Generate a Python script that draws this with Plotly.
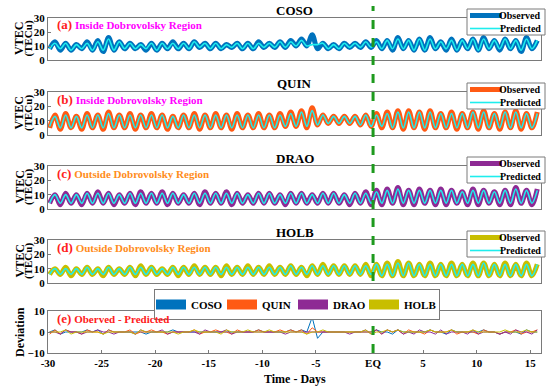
import numpy as np
import plotly.graph_objects as go

DAYS = list(range(-30, 16))
EQ_DAY = 0.33
X_TICKS = [-30, -25, -20, -15, -10, -5, EQ_DAY, 5, 10, 15]
X_TICK_TEXT = ["-30", "-25", "-20", "-15", "-10", "-5", "EQ", "5", "10", "15"]

STATIONS = ["COSO", "QUIN", "DRAO", "HOLB"]
SERIES_NAMES = ["Observed", "Predicted"]

COSO_OBS_MAX = [13,12,11,13,14,16,13,12,11,12, 12,13,12,13,12,12,11,12,12,13, 12,13,14,15,18,12,11,12,12,13, 14,14,16,14,15,16,13,15,14,15, 16,14,15,14,16,14]
COSO_OBS_MIN = [8,7,7,8,7,6,7,8,8,7, 7,8,8,8,9,8,8,9,8,8, 9,9,9,10,10,8,8,8,9,9, 9,8,7,8,7,7,8,7,7,8, 7,8,7,8,6,8]
COSO_PRED_MAX = [12,12,11,12,13,15,13,12,11,12, 12,12,12,13,12,12,11,12,12,12, 12,13,13,14,11,12,11,12,12,13, 13,14,15,14,15,15,13,14,14,15, 15,14,15,14,15,14]
COSO_PRED_MIN = [8,8,7,8,7,7,7,8,8,8, 7,8,8,8,9,8,8,9,8,8, 9,9,9,10,10,11,8,8,9,9, 9,8,8,8,7,7,8,8,7,8, 7,8,8,8,7,8]

QUIN_OBS_MAX = [14,15,13,15,14,16,14,15,14,15, 14,13,14,15,14,15,14,15,14,15, 14,15,16,17,19,14,13,13,13,14, 15,16,17,17,16,17,15,16,15,16, 17,15,16,17,15,16]
QUIN_OBS_MIN = [5,4,5,4,5,4,5,5,4,5, 5,4,5,5,4,5,5,4,5,5, 5,5,6,6,5,7,8,8,8,7, 6,5,5,4,5,4,5,5,4,5, 4,5,4,5,4,5]
QUIN_PRED_MAX = [13,14,13,14,14,15,14,14,14,14, 14,13,14,14,14,14,14,14,14,14, 14,14,15,16,17,14,13,13,13,14, 14,15,16,16,16,16,15,15,15,16, 16,15,16,16,15,15]
QUIN_PRED_MIN = [6,5,5,5,5,5,5,5,5,5, 5,5,5,5,5,5,5,5,5,5, 5,5,6,6,6,7,8,8,8,7, 6,6,5,5,5,5,5,5,5,5, 5,5,5,5,5,5]

DRAO_OBS_MAX = [10,11,10,11,12,11,10,11,12,11, 12,11,10,11,12,11,12,11,10,11, 11,10,11,11,10,11,11,10,11,12, 13,14,15,13,14,13,14,13,12,14, 13,12,13,15,13,14]
DRAO_OBS_MIN = [4,3,4,3,4,4,3,4,3,4, 4,3,4,4,3,4,4,3,4,4, 4,4,3,4,4,4,4,4,3,4, 3,3,4,3,3,4,3,3,4,3, 3,4,3,3,4,3]
DRAO_PRED_MAX = [10,10,10,11,11,11,10,11,11,11, 11,11,10,11,11,11,11,11,10,11, 11,10,11,11,10,11,11,10,11,11, 12,13,14,13,13,13,13,13,12,13, 13,12,13,14,13,13]
DRAO_PRED_MIN = [4,4,4,4,4,4,4,4,4,4, 4,4,4,4,4,4,4,4,4,4, 4,4,4,4,4,4,4,4,4,4, 4,4,4,4,4,4,4,4,4,4, 4,4,4,4,4,4]

HOLB_OBS_MAX = [10,11,10,11,10,11,10,11,12,11, 10,11,11,12,11,11,12,11,12,11, 12,11,12,11,12,13,12,12,12,13, 13,14,15,14,13,14,13,14,13,14, 14,13,14,13,14,13]
HOLB_OBS_MIN = [6,6,5,6,6,5,6,6,5,6, 6,6,5,6,6,6,5,6,6,6, 6,6,6,6,5,6,6,6,6,6, 5,5,5,5,5,5,5,5,5,5, 5,5,5,5,5,5]
HOLB_PRED_MAX = [10,10,10,11,10,11,10,11,11,11, 10,11,11,11,11,11,11,11,11,11, 11,11,12,11,12,12,12,12,12,12, 13,13,14,14,13,13,13,13,13,13, 14,13,13,13,13,13]
HOLB_PRED_MIN = [6,6,6,6,6,6,6,6,6,6, 6,6,6,6,6,6,6,6,6,6, 6,6,6,6,6,6,6,6,6,6, 6,5,5,5,5,5,5,5,5,5, 5,5,5,5,5,5]

OBS = {
    "COSO": (COSO_OBS_MIN, COSO_OBS_MAX),
    "QUIN": (QUIN_OBS_MIN, QUIN_OBS_MAX),
    "DRAO": (DRAO_OBS_MIN, DRAO_OBS_MAX),
    "HOLB": (HOLB_OBS_MIN, HOLB_OBS_MAX),
}
PRED = {
    "COSO": (COSO_PRED_MIN, COSO_PRED_MAX),
    "QUIN": (QUIN_PRED_MIN, QUIN_PRED_MAX),
    "DRAO": (DRAO_PRED_MIN, DRAO_PRED_MAX),
    "HOLB": (HOLB_PRED_MIN, HOLB_PRED_MAX),
}
PANEL_LABELS = ["(a)", "(b)", "(c)", "(d)"]
REGION_TEXT = ["Inside Dobrovolsky Region", "Inside Dobrovolsky Region",
               "Outside Dobrovolsky Region", "Outside Dobrovolsky Region"]
REGION_COLORS = ["#FF00FF", "#FF00FF", "#FF8C1A", "#FF8C1A"]
COLORS = {"COSO": "#0072BD", "QUIN": "#FF5A14", "DRAO": "#8E2A94", "HOLB": "#C8BE00"}
PRED_COLOR = "#1EEDED"

W, H = 550, 387
def py(top, bottom):
    return [1 - bottom / H, 1 - top / H]
def yp(pix):
    return 1 - pix / H

XDOM = [48 / W, 541 / W]
PANELS = [(18, 60), (92, 135), (166, 209), (240, 283), (311, 353)]

# two samples per day: daily minimum then daily maximum
t = np.array([[d + 0.15, d + 0.65] for d in DAYS]).ravel()
def interleave(lo, hi):
    return np.array(list(zip(lo, hi)), dtype=float).ravel()

FONT = "Liberation Serif"
fig = go.Figure()

for i, st in enumerate(STATIONS):
    ax = "" if i == 0 else str(i + 1)
    obs = interleave(*OBS[st])
    pred = interleave(*PRED[st])
    fig.add_trace(go.Scatter(x=t, y=obs, mode="lines", name=f"{st} Observed", showlegend=False,
                             line=dict(color=COLORS[st], width=5, shape="spline"),
                             xaxis="x" + ax, yaxis="y" + ax))
    fig.add_trace(go.Scatter(x=t, y=pred, mode="lines", name=f"{st} Predicted", showlegend=False,
                             line=dict(color=PRED_COLOR, width=1.6, shape="spline"),
                             xaxis="x" + ax, yaxis="y" + ax))

# deviation panel
for st in STATIONS:
    dev = interleave(*OBS[st]) - interleave(*PRED[st])
    fig.add_trace(go.Scatter(x=t, y=dev, mode="lines", name=st, showlegend=False,
                             line=dict(color=COLORS[st], width=1),
                             xaxis="x5", yaxis="y5"))
for st in STATIONS:
    fig.add_trace(go.Scatter(x=[None], y=[None], mode="lines", name=st,
                             line=dict(color=COLORS[st], width=14),
                             xaxis="x5", yaxis="y5", legend="legend"))

axis_common = dict(showline=True, mirror=True, linecolor="#7a7a7a", linewidth=1,
                   showgrid=False, zeroline=False, ticks="inside", ticklen=3,
                   tickcolor="#7a7a7a", automargin=False,
                   tickfont=dict(family=FONT, size=11, color="black", weight="bold"))
layout = dict(width=W, height=H, margin=dict(l=0, r=0, t=0, b=0, autoexpand=False),
              paper_bgcolor="white", plot_bgcolor="white", showlegend=True,
              font=dict(family=FONT, color="black"))

for i, (top, bot) in enumerate(PANELS):
    ax = "" if i == 0 else str(i + 1)
    xa = dict(axis_common, domain=XDOM, range=[-30, 16], anchor="y" + ax,
              tickvals=X_TICKS, ticktext=X_TICK_TEXT)
    if i < 4:
        xa.update(showticklabels=False, ticks="")
    ya = dict(axis_common, domain=py(top, bot), anchor="x" + ax)
    if i < 4:
        ya.update(range=[0, 30], tickvals=[0, 10, 20, 30])
    else:
        ya.update(range=[-10, 10], tickvals=[-10, 0, 10])
    layout["xaxis" + ax] = xa
    layout["yaxis" + ax] = ya

layout["legend"] = dict(x=297 / W, xanchor="center", y=yp(289), yanchor="top",
                        orientation="h", bgcolor="white", bordercolor="#7a7a7a",
                        borderwidth=1, font=dict(family=FONT, size=11, color="black", weight="bold"),
                        itemwidth=30, indentation=-4, entrywidth=30, entrywidthmode="pixels")
fig.update_layout(**layout)

ann = []
shapes = []
for i, st in enumerate(STATIONS):
    top, bot = PANELS[i]
    ann.append(dict(x=294.5 / W, y=yp(top - 8), xref="paper", yref="paper",
                    xanchor="center", yanchor="middle",
                    text=f"<b>{st}</b>", showarrow=False,
                    font=dict(family=FONT, size=13, color="black")))
    ann.append(dict(x=55 / W, y=yp(top + 7), xref="paper", yref="paper",
                    xanchor="left", yanchor="middle",
                    text=f"<span style='color:#FF2020;font-size:13px'><b>{PANEL_LABELS[i]}</b></span> "
                    f"<span style='color:{REGION_COLORS[i]}'><b>{REGION_TEXT[i]}</b></span>",
                    showarrow=False, font=dict(family=FONT, size=11)))
    ann.append(dict(x=19 / W, y=yp((top + bot) / 2), xref="paper", yref="paper",
                    xanchor="center", yanchor="middle",
                    text="<b>VTEC</b>", textangle=-90, showarrow=False,
                    font=dict(family=FONT, size=12, color="black")))
    ann.append(dict(x=28.5 / W, y=yp((top + bot) / 2), xref="paper", yref="paper",
                    xanchor="center", yanchor="middle",
                    text="<b>(TECu)</b>", textangle=-90, showarrow=False,
                    font=dict(family=FONT, size=11, color="black")))
    # legend box for the panel
    shapes.append(dict(type="rect", xref="paper", yref="paper",
                       x0=467 / W, x1=545 / W, y0=yp(top + 17), y1=yp(top - 9),
                       fillcolor="white", line=dict(color="#7a7a7a", width=1), layer="above"))
    for k, (name, col, wd, dy) in enumerate([(SERIES_NAMES[0], COLORS[st], 5, -2.5),
                                             (SERIES_NAMES[1], PRED_COLOR, 1.6, 10.5)]):
        shapes.append(dict(type="line", xref="paper", yref="paper",
                           x0=470 / W, x1=502 / W, y0=yp(top + dy), y1=yp(top + dy),
                           line=dict(color=col, width=wd), layer="above"))
        ann.append(dict(x=543 / W, y=yp(top + dy), xref="paper", yref="paper",
                        xanchor="right", yanchor="middle", text=f"<b>{name}</b>",
                        showarrow=False, font=dict(family=FONT, size=10, color="black")))
top, bot = PANELS[4]
ann.append(dict(x=55 / W, y=yp(top + 7), xref="paper", yref="paper",
                xanchor="left", yanchor="middle",
                text="<span style='font-size:13px'><b>(e)</b></span> <b>Oberved - Predicted</b>",
                showarrow=False, font=dict(family=FONT, size=11, color="#FF2020")))
ann.append(dict(x=20 / W, y=yp((top + bot) / 2), xref="paper", yref="paper",
                xanchor="center", yanchor="middle",
                text="<b>Deviation</b>", textangle=-90, showarrow=False,
                font=dict(family=FONT, size=12, color="black")))
ann.append(dict(x=294.5 / W, y=yp(379), xref="paper", yref="paper",
                xanchor="center", yanchor="middle",
                text="<b>Time - Days</b>", showarrow=False,
                font=dict(family=FONT, size=12, color="black")))

shapes.append(dict(type="line", xref="x5", yref="paper", x0=EQ_DAY, x1=EQ_DAY,
                   y0=yp(353), y1=yp(6),
                   line=dict(color="#1E9A1E", width=3, dash="dash"), layer="above"))
fig.update_layout(annotations=ann, shapes=shapes)

fig.write_html("out.html", config={"displayModeBar": False},
               post_script="document.body.style.margin='0';document.body.style.overflow='hidden';")
